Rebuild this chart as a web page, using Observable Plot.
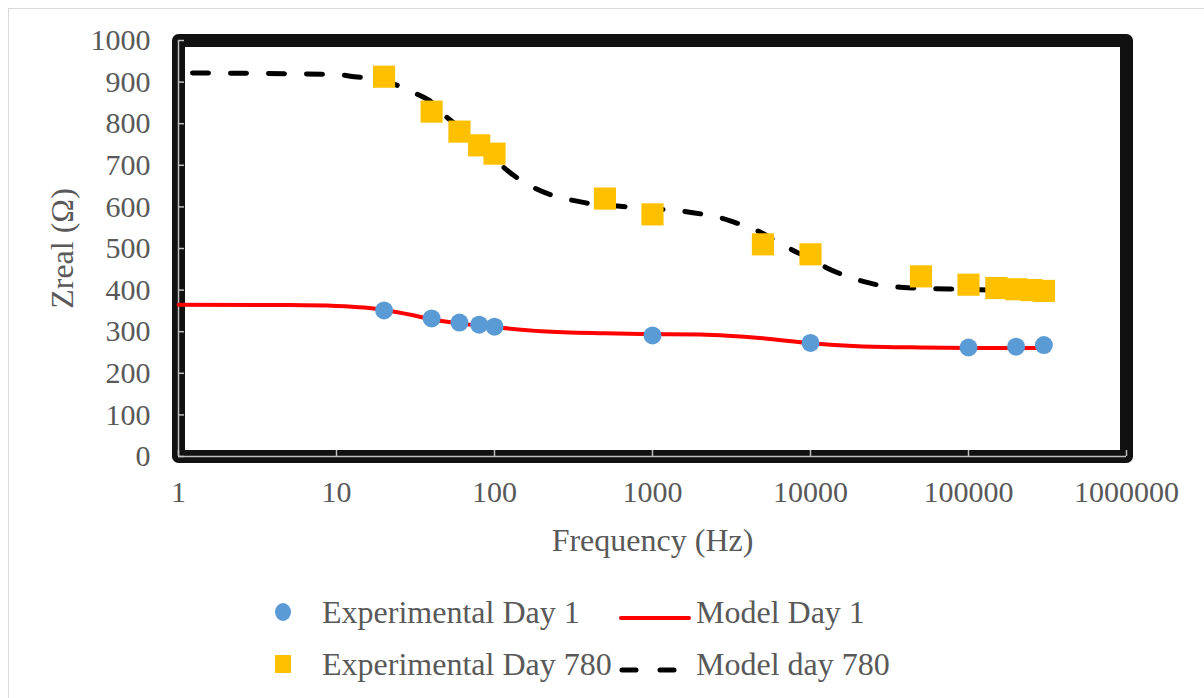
<!DOCTYPE html>
<html>
<head>
<meta charset="utf-8">
<script src="https://cdn.jsdelivr.net/npm/d3@7"></script>
<script src="https://cdn.jsdelivr.net/npm/@observablehq/plot@0.6"></script>
<style>
  html, body { margin: 0; padding: 0; background: #fff; }
  body { width: 1204px; height: 698px; position: relative; overflow: hidden; font-family: "Liberation Serif", "Times New Roman", serif; }
  .sheet { position: absolute; left: 8px; top: 8px; width: 1300px; height: 800px; border-left: 1px solid #d9d9d9; border-top: 1px solid #d9d9d9; }
  #chart { position: absolute; left: 0; top: 0; }
  .legend { position: absolute; left: 265px; top: 586px; color: #595959; font-size: 32px; }
  .legend .row { display: flex; align-items: center; height: 52px; }
  .legend .mk { width: 35px; display: flex; justify-content: center; }
  .legend .lbl1 { width: 296px; margin-left: 22px; white-space: nowrap; }
  .legend .ln { width: 76px; }
  .legend .lbl2 { white-space: nowrap; margin-left: 2px; }
</style>
</head>
<body>
<div class="sheet"></div>
<div id="chart"></div>
<div class="legend">
  <div class="row">
    <div class="mk"><svg width="18" height="20"><ellipse cx="9" cy="10" rx="8" ry="9" fill="#5B9BD5"/></svg></div>
    <div class="lbl1">Experimental Day 1</div>
    <div class="ln"><svg width="76" height="10"><line x1="3" y1="5" x2="71" y2="5" stroke="#FF0000" stroke-width="4" stroke-linecap="round"/></svg></div>
    <div class="lbl2">Model Day 1</div>
  </div>
  <div class="row">
    <div class="mk"><svg width="18" height="20"><rect x="1" y="1" width="16" height="18" fill="#FFC000"/></svg></div>
    <div class="lbl1">Experimental Day 780</div>
    <div class="ln"><svg width="76" height="10"><line x1="4" y1="5" x2="72" y2="5" stroke="#000" stroke-width="5" stroke-linecap="round" stroke-dasharray="14,24"/></svg></div>
    <div class="lbl2">Model day 780</div>
  </div>
</div>
<script>
// Measured points, day 1
const freqDay1 = [20, 40, 60, 80, 100, 1000, 10000, 100000, 200000, 300000];
const zDay1 = [351, 332, 322, 317, 312, 291, 273, 262, 264, 268];

// Measured points, day 780
const freqDay780 = [20, 40, 60, 80, 100, 500, 1000, 5000, 10000, 50000, 100000, 150000, 200000, 250000, 300000];
const zDay780 = [913, 829, 781, 748, 728, 620, 582, 510, 486, 433, 413, 405, 402, 400, 398];

// Fitted model, day 1
const freqModel1 = [1, 5, 10, 15, 20, 30, 40, 60, 100, 200, 500, 1000, 2000, 5000, 10000, 20000, 50000, 100000, 300000];
const zModel1 = [365, 364, 362, 358, 352, 340, 330, 320, 311, 301, 296, 294, 293, 284, 272, 265, 262, 261, 261];

// Fitted model, day 780
const freqModel780 = [1, 5, 10, 13, 20, 25, 32, 40, 50, 60, 80, 100, 130, 180, 240, 320, 400, 600, 1000, 1600, 2100, 2800, 3600, 5000, 6000, 8000, 10000, 12600, 16000, 21500, 28000, 37000, 50000, 90000, 150000, 300000];
const zModel780 = [922, 920, 918, 913, 904, 890, 872, 852, 815, 792, 752, 715, 678, 645, 626, 615, 608, 602, 596, 589, 582, 572, 558, 536, 518, 493, 475, 454, 437, 421, 411, 407, 404, 402, 400, 398];

// Axis ticks
const xTicks = [1, 10, 100, 1000, 10000, 100000, 1000000];
const yTicks = [0, 100, 200, 300, 400, 500, 600, 700, 800, 900, 1000];

const rows = (fs, zs) => fs.map((f, i) => ({f, z: zs[i]}));
const exp1 = rows(freqDay1, zDay1);
const exp780 = rows(freqDay780, zDay780);
const mod1 = rows(freqModel1, zModel1);
const mod780 = rows(freqModel780, zModel780);

const grey = "#595959";
const tickGrey = "#bfbfbf";

const chart = Plot.plot({
  width: 1204,
  height: 565,
  marginLeft: 178,
  marginRight: 78,
  marginTop: 40,
  marginBottom: 109,
  style: { fontFamily: "'Liberation Serif', 'Times New Roman', serif", background: "transparent" },
  x: { type: "log", domain: [1, 1000000] },
  y: { domain: [0, 1000] },
  marks: [
    Plot.frame({ stroke: "#111", strokeWidth: 13, strokeLinejoin: "round" }),
    Plot.ruleX([1], { stroke: tickGrey, strokeWidth: 1.5 }),
    Plot.ruleY([0], { stroke: tickGrey, strokeWidth: 1.5 }),
    Plot.axisY({ ticks: yTicks, tickSize: -6, text: null, stroke: tickGrey, strokeWidth: 1.5, label: null }),
    Plot.axisX({ ticks: xTicks, tickSize: -6, text: null, stroke: tickGrey, strokeWidth: 1.5, label: null }),
    Plot.axisY({ ticks: yTicks, tickSize: 0, tickPadding: 28, tickFormat: d => String(d), fontSize: 30, fill: grey, label: null }),
    Plot.axisX({ ticks: xTicks, tickSize: 0, tickPadding: 24, tickFormat: d => String(d), fontSize: 30, fill: grey, label: null }),
    Plot.text(["Frequency (Hz)"], { frameAnchor: "bottom", dy: 84, lineAnchor: "middle", fontSize: 32, fill: grey }),
    Plot.text(["Zreal (Ω)"], { frameAnchor: "left", dx: -116, rotate: -90, textAnchor: "middle", lineAnchor: "middle", fontSize: 32, fill: grey }),
    Plot.line(mod1, { x: "f", y: "z", stroke: "#FF0000", strokeWidth: 4, curve: "monotone-x" }),
    Plot.line(mod780, { x: "f", y: "z", stroke: "#000", strokeWidth: 5, strokeLinecap: "round", strokeDasharray: "16,22", strokeDashoffset: 24, curve: "monotone-x" }),
    Plot.dot(exp1, { x: "f", y: "z", r: 9, fill: "#5B9BD5", stroke: "none" }),
    Plot.dot(exp780, { x: "f", y: "z", symbol: "square", r: 12.5, fill: "#FFC000", stroke: "none" })
  ]
});
document.getElementById("chart").append(chart);
</script>
</body>
</html>
